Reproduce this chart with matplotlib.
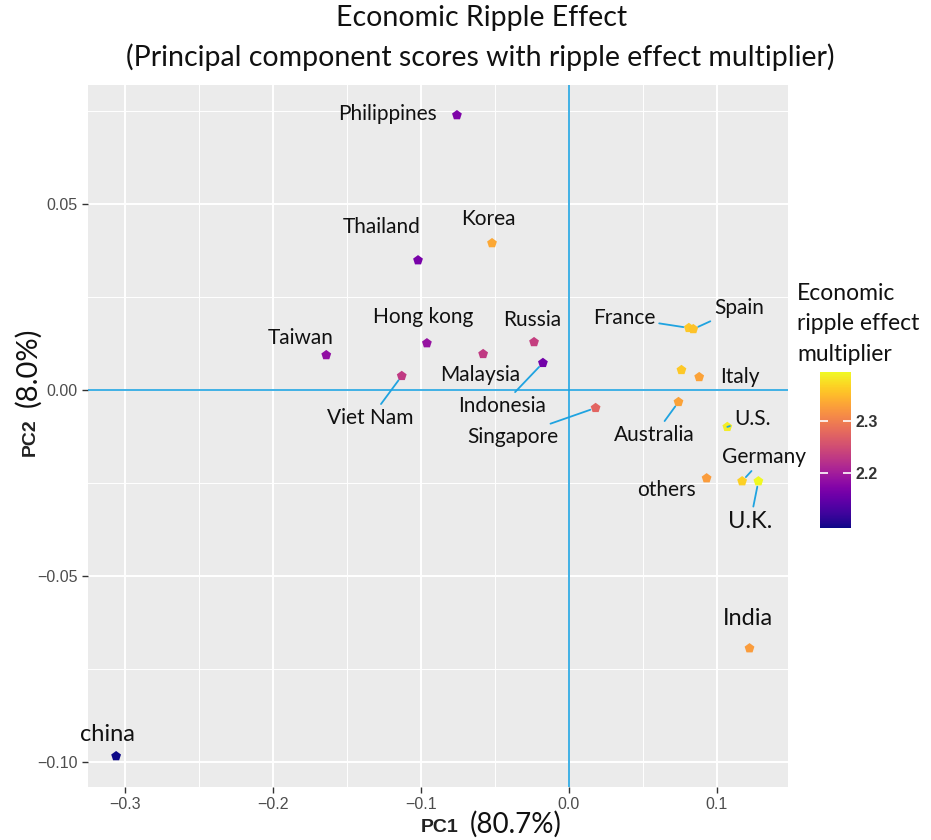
import matplotlib
matplotlib.use('Agg')
import matplotlib.pyplot as plt
from matplotlib.colors import Normalize
from matplotlib.ticker import MultipleLocator
import numpy as np

# datos
paises = ['Philippines', 'Thailand', 'Korea', 'Taiwan', 'Hong kong', 'Malaysia', 'Russia',
          'Indonesia', 'Viet Nam', 'Singapore', 'France', 'Spain', '', 'Italy', 'Australia',
          'U.S.', 'others', 'Germany', 'U.K.', 'India', 'china']
pc1 = [-0.0757, -0.102, -0.052, -0.164, -0.096, -0.058, -0.0236,
       -0.0176, -0.113, 0.018, 0.081, 0.084, 0.076, 0.088, 0.074,
       0.107, 0.093, 0.117, 0.128, 0.122, -0.306]
pc2 = [0.0739, 0.0349, 0.0395, 0.0094, 0.0126, 0.0097, 0.0129,
       0.0073, 0.0038, -0.0048, 0.0167, 0.0164, 0.0054, 0.0035, -0.0032,
       -0.0099, -0.0237, -0.0245, -0.0245, -0.0694, -0.0984]
multiplicador = [2.17, 2.165, 2.335, 2.185, 2.19, 2.23, 2.235,
                 2.16, 2.23, 2.275, 2.36, 2.355, 2.36, 2.33, 2.33,
                 2.385, 2.325, 2.365, 2.394, 2.325, 2.094]

# posicion de cada etiqueta (pixeles respecto al punto), tamano y si lleva linea guia
etiquetas = {
    'Philippines': (-69, 1, 15, False),
    'Thailand': (-36, 33, 15, False),
    'Korea': (-4, 24, 15, False),
    'Taiwan': (-26, 17, 15, False),
    'Hong kong': (-4, 26, 15, False),
    'Malaysia': (-3, -21, 15, False),
    'Russia': (-2, 22, 15, False),
    'Indonesia': (-41, -43, 15, True),
    'Viet Nam': (-31, -42, 15, True),
    'Singapore': (-83, -29, 15, True),
    'France': (-65, 10, 15, True),
    'Spain': (46, 21, 15, True),
    'Italy': (41, 0, 15, False),
    'Australia': (-24, -33, 15, True),
    'U.S.': (25, 8, 15, True),
    'others': (-40, -12, 15, False),
    'Germany': (22, 24, 15, True),
    'U.K.': (-8, -40, 17, True),
    'India': (-2, 30, 17, False),
    'china': (-9, 22, 17, False),
}

azul = '#1FA3E0'
fuente = ['Lato', 'DejaVu Sans']
W, H = 931, 840

fig = plt.figure(figsize=(W / 100, H / 100), dpi=100)
ax = fig.add_axes([88 / W, 1 - 787 / H, 700 / W, 702 / H])
ax.set_facecolor('#EBEBEB')
for s in ax.spines.values():
    s.set_visible(False)

ax.set_xlim(-0.325, 0.148)
ax.set_ylim(-0.1067, 0.0820)
ax.xaxis.set_major_locator(MultipleLocator(0.1))
ax.xaxis.set_minor_locator(MultipleLocator(0.05))
ax.yaxis.set_major_locator(MultipleLocator(0.05))
ax.yaxis.set_minor_locator(MultipleLocator(0.025))
ax.grid(which='major', color='white', lw=1.4)
ax.grid(which='minor', color='white', lw=0.7)
ax.set_axisbelow(True)
ax.tick_params(which='major', length=4, width=1, color='#333333', labelcolor='#4D4D4D',
               labelsize=11.5, direction='out')
ax.tick_params(which='minor', length=0)
ax.set_xticklabels([f'{v:.1f}'.replace('-', '\u2212') for v in ax.get_xticks()])
ax.set_yticklabels([f'{v:.2f}'.replace('-', '\u2212') for v in ax.get_yticks()])
for t in ax.get_xticklabels() + ax.get_yticklabels():
    t.set_family('Liberation Sans')

ax.axhline(0, color=azul, lw=1.2, zorder=1.5)
ax.axvline(0, color=azul, lw=1.2, zorder=1.5)

norma = Normalize(min(multiplicador), max(multiplicador))
sc = ax.scatter(pc1, pc2, c=multiplicador, cmap='plasma', norm=norma, marker='p', s=55,
                linewidths=0, zorder=3)

for nombre, x, y in zip(paises, pc1, pc2):
    if nombre not in etiquetas:
        continue
    dx, dy, tam, linea = etiquetas[nombre]
    props = dict(arrowstyle='-', color=azul, lw=1.3, shrinkA=1, shrinkB=4) if linea else None
    ax.annotate(nombre, xy=(x, y), xytext=(dx, dy), textcoords='offset pixels',
                ha='center', va='center', fontsize=tam, family=fuente, color='#111111',
                arrowprops=props, zorder=4)

# barra de color
cax = fig.add_axes([820 / W, 1 - 528 / H, 31 / W, 156 / H])
cb = fig.colorbar(sc, cax=cax, ticks=[2.2, 2.3])
cb.outline.set_visible(False)
cax.tick_params(left=True, right=True, labelleft=False, labelright=True, direction='in',
                length=6, width=1.2, color='white', labelcolor='#333333', labelsize=11.5)
for t in cax.get_yticklabels():
    t.set_family('Liberation Sans')
    t.set_fontweight('bold')
fig.text(797 / W, 1 - 324 / H, 'Economic\nripple effect\nmultiplier', ha='left', va='center',
         fontsize=16.5, family=fuente, linespacing=1.55, color='#111111')

# titulos
fig.text(482 / W, 1 - 18 / H, 'Economic Ripple Effect', ha='center', va='center',
         fontsize=20.5, family=fuente, color='#111111')
fig.text(480 / W, 1 - 57 / H, '(Principal component scores with ripple effect multiplier)',
         ha='center', va='center', fontsize=20.5, family=fuente, color='#111111')

fig.text(440 / W, 1 - 828 / H, 'PC1', ha='center', va='center', fontsize=14,
         fontweight='bold', family='Liberation Sans', color='#222222')
fig.text(516 / W, 1 - 824 / H, '(80.7%)', ha='center', va='center', fontsize=20,
         family=fuente, color='#111111')
fig.text(30 / W, 1 - 437 / H, 'PC2', ha='center', va='center', fontsize=14, rotation=90,
         fontweight='bold', family='Liberation Sans', color='#222222')
fig.text(28 / W, 1 - 367 / H, '(8.0%)', ha='center', va='center', fontsize=21, rotation=90,
         family=fuente, color='#111111')

fig.savefig('out.png', dpi=100)
